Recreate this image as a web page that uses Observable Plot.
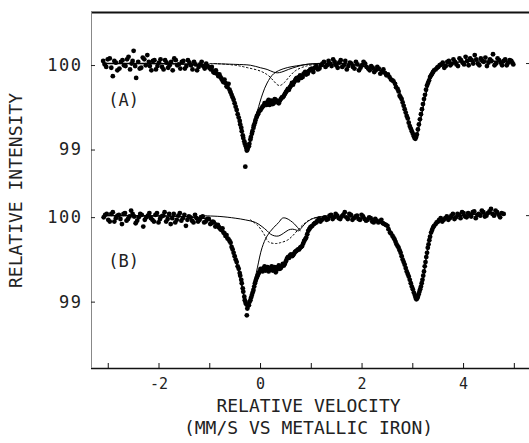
<!DOCTYPE html>
<html><head><meta charset="utf-8">
<script src="https://cdn.jsdelivr.net/npm/d3@7"></script>
<script src="https://cdn.jsdelivr.net/npm/@observablehq/plot@0.6"></script>
<style>body{margin:0;background:#fff} #chart svg{display:block}</style>
</head><body><div id="chart"></div>
<script>
// ---- data ----
const panelNames = ["A", "B"];
const panelLabels = ["(A)", "(B)"];
const panelShift = [0, 1.8];            // vertical stacking of panel B below panel A (in % units)
const yTickValues = [100, 99];
const yRightTickValues = [100];
const xTickValues = [-3, -2, -1, 0, 1, 2, 3, 4, 5];
const xTickLabels = [-2, 0, 2, 4];
const xTitleLines = ["RELATIVE VELOCITY", "(MM/S VS METALLIC IRON)"];
const yTitle = "RELATIVE INTENSITY";

// measured points, panel A (velocity mm/s, relative intensity %)
const dataA = [[-3.10,100.03],[-3.04,99.96],[-2.97,100.06],[-2.91,99.85],[-2.85,100.01],[-2.78,99.94],[-2.72,100.04],[-2.66,99.97],[-2.60,100.08],[-2.54,100.0],[-2.50,100.15],[-2.45,99.83],[-2.41,100.02],[-2.35,99.95],[-2.29,100.05],[-2.23,100.1],[-2.18,99.97],[-2.12,100.03],[-2.06,99.93],[-2.0,100.01],[-1.94,99.96],[-1.88,100.04],[-1.82,99.95],[-1.76,100.02],[-1.70,100.06],[-1.64,99.98],[-1.58,99.94],[-1.52,100.03],[-1.46,99.97],[-1.40,100.01],[-1.34,99.93],[-1.28,99.99],[-1.22,99.96],[-1.16,100.02],[-1.10,99.94],[-1.04,99.97],[-0.98,99.93],[-0.93,99.9],[-0.88,99.92],[-0.83,99.85],[-0.79,99.84],[-0.75,99.8],[-0.71,99.81],[-0.67,99.73],[-0.63,99.76],[-0.59,99.66],[-0.55,99.6],[-0.51,99.53],[-0.47,99.45],[-0.43,99.36],[-0.40,99.28],[-0.37,99.2],[-0.34,99.12],[-0.31,99.05],[-0.28,99.0],[-0.26,98.98],[-0.30,98.78],[-0.23,99.02],[-0.2,99.1],[-0.17,99.17],[-0.14,99.24],[-0.11,99.3],[-0.08,99.36],[-0.05,99.4],[-0.02,99.44],[0.02,99.47],[0.06,99.5],[0.1,99.52],[0.14,99.55],[0.18,99.51],[0.22,99.56],[0.26,99.53],[0.30,99.57],[0.34,99.54],[0.38,99.56],[0.42,99.6],[0.46,99.62],[0.5,99.66],[0.54,99.7],[0.58,99.72],[0.62,99.77],[0.66,99.78],[0.7,99.82],[0.74,99.8],[0.78,99.86],[0.83,99.84],[0.88,99.9],[0.93,99.88],[0.98,99.93],[1.04,99.9],[1.1,99.97],[1.16,99.94],[1.22,100.0],[1.28,99.96],[1.34,100.03],[1.4,99.97],[1.46,100.02],[1.52,99.95],[1.58,100.04],[1.64,99.98],[1.7,99.93],[1.76,100.01],[1.82,99.96],[1.88,100.02],[1.94,99.92],[2.0,99.98],[2.06,100.0],[2.12,99.94],[2.18,99.97],[2.24,99.9],[2.3,99.96],[2.36,99.88],[2.42,99.93],[2.48,99.86],[2.54,99.84],[2.6,99.8],[2.65,99.76],[2.7,99.7],[2.74,99.62],[2.78,99.58],[2.82,99.5],[2.86,99.42],[2.9,99.35],[2.94,99.26],[2.98,99.2],[3.02,99.14],[3.05,99.11],[3.08,99.16],[3.12,99.28],[3.16,99.4],[3.2,99.52],[3.24,99.63],[3.28,99.74],[3.32,99.8],[3.36,99.86],[3.4,99.9],[3.45,99.93],[3.5,99.96],[3.56,99.99],[3.62,99.95],[3.68,100.02],[3.74,99.98],[3.8,100.05],[3.86,99.99],[3.92,100.06],[3.98,100.01],[4.04,100.08],[4.1,99.98],[4.16,100.04],[4.22,100.1],[4.28,100.0],[4.34,100.06],[4.4,100.02],[4.46,99.97],[4.52,100.05],[4.58,100.11],[4.64,100.0],[4.7,100.04],[4.76,99.98],[4.82,100.05],[4.88,100.01],[4.94,100.03],[4.98,99.99]];
const dataA2 = [[-3.07,99.99],[-3.01,100.05],[-2.94,99.95],[-2.88,100.03],[-2.82,99.92],[-2.75,100.02],[-2.69,99.98],[-2.63,100.05],[-2.57,99.93],[-2.52,100.03],[-2.47,99.97],[-2.38,99.94],[-2.32,100.07],[-2.26,99.98],[-2.20,100.02],[-2.15,99.92],[-2.09,100.04],[-2.03,99.97],[-1.97,100.05],[-1.91,99.93],[-1.85,100.01],[-1.79,99.98],[-1.73,99.92],[-1.67,100.04],[-1.61,99.99],[-1.55,100.02],[-1.49,99.94],[-1.43,100.04],[-1.37,99.98],[-1.31,100.02],[-1.25,99.92],[-1.19,99.99],[-1.13,99.97],[-1.07,100.0],[-1.01,99.95],[-0.96,99.96],[-0.91,99.89],[-0.86,99.88],[-0.81,99.87],[-0.77,99.82],[-0.73,99.78],[-0.69,99.77],[-0.65,99.72],[-0.61,99.69],[-0.57,99.63],[-0.53,99.57],[-0.49,99.49],[-0.45,99.4],[-0.41,99.32],[-0.38,99.24],[-0.35,99.15],[-0.32,99.08],[-0.29,99.02],[-0.27,98.97],[-0.25,99.0],[-0.22,99.05],[-0.19,99.13],[-0.16,99.2],[-0.13,99.27],[-0.10,99.33],[-0.07,99.38],[-0.04,99.42],[0.0,99.45],[0.04,99.49],[0.08,99.53],[0.12,99.51],[0.16,99.57],[0.2,99.53],[0.24,99.52],[0.28,99.58],[0.32,99.55],[0.36,99.53],[0.4,99.58],[0.44,99.6],[0.48,99.64],[0.52,99.68],[0.56,99.69],[0.6,99.74],[0.64,99.75],[0.68,99.8],[0.72,99.83],[0.76,99.84],[0.8,99.83],[0.85,99.88],[0.9,99.87],[0.95,99.91],[1.01,99.94],[1.07,99.95],[1.13,99.93],[1.19,99.98],[1.25,100.02],[1.31,99.98],[1.37,100.0],[1.43,100.05],[1.49,99.98],[1.55,100.01],[1.61,99.96],[1.67,100.03],[1.73,99.97],[1.79,100.0],[1.85,99.94],[1.91,99.99],[1.97,99.95],[2.03,100.02],[2.09,99.96],[2.15,99.92],[2.21,99.95],[2.27,99.92],[2.33,99.94],[2.39,99.9],[2.45,99.89],[2.51,99.87],[2.57,99.81],[2.62,99.79],[2.67,99.72],[2.72,99.67],[2.76,99.6],[2.8,99.54],[2.84,99.46],[2.88,99.38],[2.92,99.3],[2.96,99.23],[3.0,99.17],[3.035,99.12],[3.065,99.13],[3.1,99.22],[3.14,99.34],[3.18,99.46],[3.22,99.58],[3.26,99.69],[3.3,99.77],[3.34,99.84],[3.38,99.88],[3.42,99.92],[3.48,99.95],[3.53,99.98],[3.59,100.01],[3.65,99.97],[3.71,100.03],[3.77,100.0],[3.83,100.02],[3.89,99.97],[3.95,100.04],[4.01,99.99],[4.07,100.03],[4.13,100.06],[4.19,100.0],[4.25,100.05],[4.31,99.98],[4.37,100.03],[4.43,100.07],[4.49,100.01],[4.55,100.03],[4.61,99.98],[4.67,100.06],[4.73,100.01],[4.79,100.03],[4.85,99.98],[4.91,100.04],[4.96,100.01]];

// measured points, panel B
const dataB = [[-3.09,99.98],[-3.03,100.02],[-2.97,99.93],[-2.91,100.04],[-2.85,99.97],[-2.79,100.01],[-2.73,99.9],[-2.67,100.03],[-2.61,99.96],[-2.55,100.06],[-2.49,99.99],[-2.43,99.94],[-2.37,100.02],[-2.31,99.87],[-2.25,99.98],[-2.19,100.03],[-2.13,99.95],[-2.07,100.01],[-2.01,99.92],[-1.95,99.99],[-1.89,100.04],[-1.83,99.96],[-1.77,99.9],[-1.71,100.02],[-1.65,99.95],[-1.59,100.03],[-1.53,99.97],[-1.47,99.88],[-1.41,99.99],[-1.35,99.94],[-1.29,100.01],[-1.23,99.93],[-1.17,99.98],[-1.11,99.92],[-1.05,99.96],[-0.99,99.9],[-0.94,99.93],[-0.89,99.87],[-0.84,99.89],[-0.79,99.84],[-0.75,99.85],[-0.71,99.79],[-0.67,99.77],[-0.63,99.72],[-0.59,99.68],[-0.55,99.6],[-0.51,99.52],[-0.47,99.45],[-0.43,99.37],[-0.40,99.29],[-0.37,99.2],[-0.34,99.1],[-0.31,99.0],[-0.28,98.95],[-0.26,98.9],[-0.27,98.82],[-0.23,98.94],[-0.2,99.0],[-0.17,99.06],[-0.14,99.12],[-0.11,99.2],[-0.08,99.26],[-0.05,99.3],[-0.02,99.34],[0.02,99.36],[0.06,99.38],[0.1,99.35],[0.14,99.39],[0.18,99.36],[0.22,99.4],[0.26,99.37],[0.3,99.33],[0.34,99.39],[0.38,99.37],[0.42,99.4],[0.46,99.41],[0.5,99.46],[0.54,99.51],[0.58,99.53],[0.62,99.52],[0.66,99.55],[0.7,99.58],[0.74,99.6],[0.78,99.62],[0.82,99.64],[0.86,99.7],[0.9,99.74],[0.94,99.82],[0.98,99.86],[1.02,99.88],[1.07,99.91],[1.12,99.94],[1.18,99.93],[1.24,99.97],[1.3,99.95],[1.36,100.0],[1.42,99.96],[1.48,100.02],[1.54,99.97],[1.6,99.99],[1.66,100.04],[1.72,99.96],[1.78,100.01],[1.84,99.97],[1.9,100.0],[1.96,99.95],[2.02,99.99],[2.08,99.94],[2.14,99.98],[2.2,99.93],[2.26,99.96],[2.32,99.92],[2.38,99.95],[2.44,99.9],[2.5,99.88],[2.55,99.8],[2.6,99.76],[2.64,99.72],[2.68,99.66],[2.72,99.62],[2.76,99.56],[2.8,99.48],[2.84,99.42],[2.88,99.34],[2.92,99.28],[2.96,99.2],[3.0,99.13],[3.04,99.06],[3.07,99.01],[3.1,99.04],[3.13,99.1],[3.16,99.16],[3.19,99.24],[3.22,99.34],[3.25,99.45],[3.28,99.56],[3.31,99.66],[3.34,99.75],[3.38,99.83],[3.42,99.88],[3.47,99.92],[3.52,99.95],[3.58,99.93],[3.64,99.97],[3.7,99.95],[3.76,100.0],[3.82,99.96],[3.88,100.02],[3.94,99.97],[4.0,100.03],[4.06,99.98],[4.12,100.01],[4.18,100.04],[4.24,99.97],[4.3,100.02],[4.36,100.06],[4.42,99.99],[4.48,100.03],[4.54,100.08],[4.6,100.0],[4.66,100.04],[4.72,99.98],[4.79,100.02]];
const dataB2 = [[-3.06,100.01],[-3.0,99.95],[-2.94,100.02],[-2.88,99.93],[-2.82,100.0],[-2.76,99.96],[-2.70,100.02],[-2.64,99.94],[-2.58,99.99],[-2.52,100.02],[-2.46,99.91],[-2.40,99.98],[-2.34,100.01],[-2.28,99.95],[-2.22,100.0],[-2.16,99.97],[-2.10,99.93],[-2.04,100.03],[-1.98,99.96],[-1.92,100.0],[-1.86,99.93],[-1.80,100.02],[-1.74,99.97],[-1.68,99.92],[-1.62,100.0],[-1.56,99.94],[-1.50,100.01],[-1.44,99.95],[-1.38,99.98],[-1.32,99.92],[-1.26,99.97],[-1.20,99.95],[-1.14,99.99],[-1.08,99.93],[-1.02,99.96],[-0.97,99.91],[-0.92,99.92],[-0.87,99.88],[-0.82,99.86],[-0.77,99.83],[-0.73,99.8],[-0.69,99.76],[-0.65,99.73],[-0.61,99.7],[-0.57,99.63],[-0.53,99.56],[-0.49,99.48],[-0.45,99.4],[-0.41,99.32],[-0.38,99.24],[-0.35,99.14],[-0.32,99.04],[-0.295,98.97],[-0.25,98.93],[-0.215,98.98],[-0.185,99.03],[-0.155,99.09],[-0.125,99.16],[-0.095,99.23],[-0.065,99.28],[-0.035,99.32],[0.0,99.37],[0.04,99.34],[0.08,99.4],[0.12,99.37],[0.16,99.34],[0.2,99.38],[0.24,99.35],[0.28,99.39],[0.32,99.36],[0.36,99.41],[0.4,99.38],[0.44,99.43],[0.48,99.43],[0.52,99.49],[0.56,99.5],[0.6,99.54],[0.64,99.53],[0.68,99.57],[0.72,99.59],[0.76,99.6],[0.8,99.63],[0.84,99.67],[0.88,99.72],[0.92,99.78],[0.96,99.84],[1.0,99.87],[1.05,99.9],[1.1,99.92],[1.15,99.96],[1.21,99.95],[1.27,99.98],[1.33,99.96],[1.39,100.01],[1.45,99.98],[1.51,100.0],[1.57,99.96],[1.63,100.01],[1.69,99.98],[1.75,100.02],[1.81,99.95],[1.87,99.99],[1.93,99.96],[1.99,100.01],[2.05,99.96],[2.11,99.95],[2.17,99.97],[2.23,99.92],[2.29,99.94],[2.35,99.93],[2.41,99.91],[2.47,99.89],[2.52,99.84],[2.57,99.79],[2.62,99.74],[2.66,99.69],[2.7,99.64],[2.74,99.59],[2.78,99.52],[2.82,99.45],[2.86,99.38],[2.9,99.31],[2.94,99.24],[2.98,99.16],[3.02,99.09],[3.055,99.03],[3.085,99.02],[3.115,99.07],[3.145,99.13],[3.175,99.2],[3.205,99.29],[3.235,99.4],[3.265,99.51],[3.295,99.62],[3.325,99.71],[3.36,99.8],[3.4,99.86],[3.45,99.9],[3.5,99.93],[3.55,99.97],[3.61,99.95],[3.67,99.99],[3.73,99.97],[3.79,100.02],[3.85,99.98],[3.91,100.01],[3.97,100.04],[4.03,99.99],[4.09,100.03],[4.15,99.99],[4.21,100.05],[4.27,100.01],[4.33,100.0],[4.39,100.04],[4.45,100.0],[4.51,100.05],[4.57,100.02],[4.63,100.06],[4.69,100.01],[4.75,100.03]];

// fitted curves
const fitA = [[-3.1,100.0],[-2.0,100.0],[-1.3,99.99],[-1.0,99.95],[-0.8,99.86],[-0.65,99.74],[-0.55,99.59],[-0.45,99.4],[-0.37,99.2],[-0.31,99.05],[-0.27,99.0],[-0.22,99.05],[-0.15,99.2],[-0.07,99.37],[0.02,99.47],[0.12,99.53],[0.25,99.55],[0.38,99.57],[0.48,99.63],[0.58,99.72],[0.7,99.81],[0.85,99.88],[1.0,99.93],[1.3,99.98],[1.6,100.0],[2.0,99.97],[2.4,99.91],[2.55,99.85],[2.65,99.77],[2.75,99.64],[2.85,99.45],[2.95,99.26],[3.05,99.12],[3.15,99.33],[3.25,99.62],[3.35,99.82],[3.48,99.94],[3.7,100.0],[4.3,100.03],[4.98,100.02]];
const compA1 = [[-3.1,100.0],[-1.5,99.99],[-1.0,99.96],[-0.8,99.87],[-0.65,99.75],[-0.55,99.6],[-0.45,99.4],[-0.37,99.2],[-0.31,99.05],[-0.27,99.0],[-0.22,99.06],[-0.15,99.22],[-0.06,99.44],[0.04,99.64],[0.13,99.77],[0.26,99.88],[0.46,99.94],[0.79,99.98],[1.1,100.0],[1.6,100.01]];
const compA2 = [[-1.0,100.0],[-0.5,99.99],[-0.2,99.98],[0.0,99.95],[0.13,99.93],[0.25,99.9],[0.33,99.89],[0.42,99.9],[0.55,99.93],[0.7,99.96],[0.9,99.99],[1.2,100.0]];
const dotA = [[-0.9,100.0],[-0.5,99.98],[-0.25,99.95],[0.0,99.91],[0.15,99.86],[0.25,99.8],[0.33,99.75],[0.38,99.74],[0.46,99.77],[0.59,99.86],[0.7,99.92],[0.9,99.97],[1.2,100.0]];

const fitB = [[-3.1,100.0],[-1.3,99.98],[-1.0,99.95],[-0.8,99.88],[-0.65,99.74],[-0.55,99.6],[-0.45,99.39],[-0.37,99.18],[-0.31,99.0],[-0.27,98.93],[-0.22,98.97],[-0.15,99.1],[-0.07,99.27],[0.03,99.35],[0.2,99.38],[0.4,99.39],[0.5,99.45],[0.58,99.52],[0.68,99.56],[0.78,99.62],[0.88,99.72],[0.98,99.84],[1.1,99.92],[1.3,99.97],[1.6,99.99],[2.0,99.97],[2.4,99.92],[2.5,99.88],[2.62,99.75],[2.76,99.56],[2.89,99.34],[2.99,99.17],[3.07,99.02],[3.13,99.08],[3.19,99.2],[3.25,99.45],[3.31,99.65],[3.38,99.83],[3.48,99.92],[3.7,99.97],[4.3,100.02],[4.79,100.02]];
const compB1 = [[-3.1,100.0],[-1.5,99.99],[-1.0,99.95],[-0.8,99.87],[-0.65,99.74],[-0.55,99.6],[-0.45,99.39],[-0.37,99.18],[-0.31,99.0],[-0.27,98.93],[-0.22,98.98],[-0.15,99.13],[-0.06,99.39],[0.03,99.62],[0.13,99.76],[0.26,99.86],[0.36,99.92],[0.43,99.97],[0.5,99.97],[0.59,99.94],[0.67,99.9],[0.73,99.86],[0.78,99.82]];
const compB2 = [[-1.2,100.0],[-0.8,99.99],[-0.5,99.97],[-0.3,99.95],[-0.1,99.92],[0.03,99.87],[0.13,99.82],[0.2,99.78],[0.28,99.76],[0.36,99.76],[0.45,99.79],[0.55,99.83],[0.63,99.84],[0.7,99.83],[0.75,99.82],[0.8,99.85],[0.87,99.9],[0.95,99.94],[1.05,99.97],[1.2,99.99],[1.5,100.0]];
const dotB = [[-0.2,99.95],[-0.05,99.88],[0.06,99.79],[0.16,99.69],[0.3,99.67],[0.39,99.68],[0.53,99.71],[0.63,99.76],[0.72,99.82],[0.85,99.9],[1.0,99.96],[1.2,99.99]];

// ---- build tables ----
const xDomain = [-3.33, 5.22];
const yDomain = [96.391, 100.604];
const toRows = (arr, p, id) => arr.map(([v, val]) => ({v, y: val - panelShift[p], id}));
const points = [...toRows(dataA, 0, "A"), ...toRows(dataA2, 0, "A"), ...toRows(dataB, 1, "B"), ...toRows(dataB2, 1, "B")];
const fits = [...toRows(fitA, 0, "fA"), ...toRows(fitB, 1, "fB")];
const comps = [...toRows(compA1, 0, "a1"), ...toRows(compA2, 0, "a2"), ...toRows(compB1, 1, "b1"), ...toRows(compB2, 1, "b2")];
const dotted = [...toRows(dotA, 0, "dA"), ...toRows(dotB, 1, "dB")];

const leftTicks = [], tickText = new Map();
panelShift.forEach((s) => yTickValues.forEach((t) => { const k = +(t - s).toFixed(3); leftTicks.push(k); tickText.set(k, String(t)); }));
const rightTicks = [];
panelShift.forEach((s) => yRightTickValues.forEach((t) => rightTicks.push(+(t - s).toFixed(3))));
const labelRows = panelLabels.map((t, i) => ({t, v: -3.0, y: [99.56, 99.46][i] - panelShift[i]}));

const font = "DejaVu Sans Mono";
const ink = "#222";
const chart = Plot.plot({
  width: 529, height: 443,
  marginTop: 12, marginBottom: 75, marginLeft: 91, marginRight: 4,
  style: {fontFamily: font, fontSize: "17px", color: ink, background: "#fff"},
  x: {domain: xDomain, label: null},
  y: {domain: yDomain, label: null},
  marks: [
    Plot.ruleY([yDomain[1]], {stroke: "#111", strokeWidth: 2, insetRight: -4}),
    Plot.ruleY([yDomain[0]], {stroke: "#111", strokeWidth: 1.5, insetRight: -4}),
    Plot.ruleX([xDomain[0]], {stroke: "#888", strokeWidth: 1}),
    Plot.axisX({ticks: xTickValues, tickSize: -5, tickPadding: 15.3, stroke: "#111", fill: ink, fontSize: 15,
      tickFormat: (d) => xTickLabels.includes(d) ? String(d) : null}),
    Plot.axisY({anchor: "left", ticks: leftTicks, tickSize: -4, tickPadding: 13, dy: 2, fill: ink,
      tickFormat: (d) => tickText.get(+d.toFixed(3)) ?? null}),
    Plot.axisY({anchor: "right", ticks: rightTicks, tickSize: 4, tickFormat: () => null}),
    Plot.dot(points, {x: "v", y: "y", r: 2.4, fill: "#000", stroke: null}),
    Plot.line(fits, {x: "v", y: "y", z: "id", stroke: "#000", strokeWidth: 1.4, curve: "catmull-rom"}),
    Plot.line(comps, {x: "v", y: "y", z: "id", stroke: "#000", strokeWidth: 1, curve: "catmull-rom"}),
    Plot.line(dotted, {x: "v", y: "y", z: "id", stroke: "#000", strokeWidth: 1, strokeDasharray: "1.5,2.5", curve: "catmull-rom"}),
    Plot.text(labelRows, {x: "v", y: "y", text: "t", textAnchor: "start", fill: ink, ariaLabel: "panel-label"}),
    Plot.text([yTitle], {frameAnchor: "left", textAnchor: "middle", lineAnchor: "middle", rotate: -90, dx: -75, fill: ink, fontSize: 18, ariaLabel: "y-title"}),
    Plot.text([xTitleLines[0]], {frameAnchor: "bottom", textAnchor: "middle", lineAnchor: "bottom", dy: 43, fill: ink, fontSize: 18, ariaLabel: "x-title"}),
    Plot.text([xTitleLines[1]], {frameAnchor: "bottom", textAnchor: "middle", lineAnchor: "bottom", dy: 65, fill: ink, fontSize: 18, ariaLabel: "x-title"})
  ]
});
document.getElementById("chart").appendChild(chart);
const svg = d3.select(chart);
svg.selectAll('g[aria-label="x-title"] text').attr("letter-spacing", "2.2px");
svg.selectAll('g[aria-label="y-title"] text').attr("letter-spacing", "2.8px");
svg.selectAll('g[aria-label="y-axis tick label"] text').attr("letter-spacing", "1.5px");
svg.selectAll('g[aria-label="panel-label"] text').attr("letter-spacing", "2.5px");
</script></body></html>
